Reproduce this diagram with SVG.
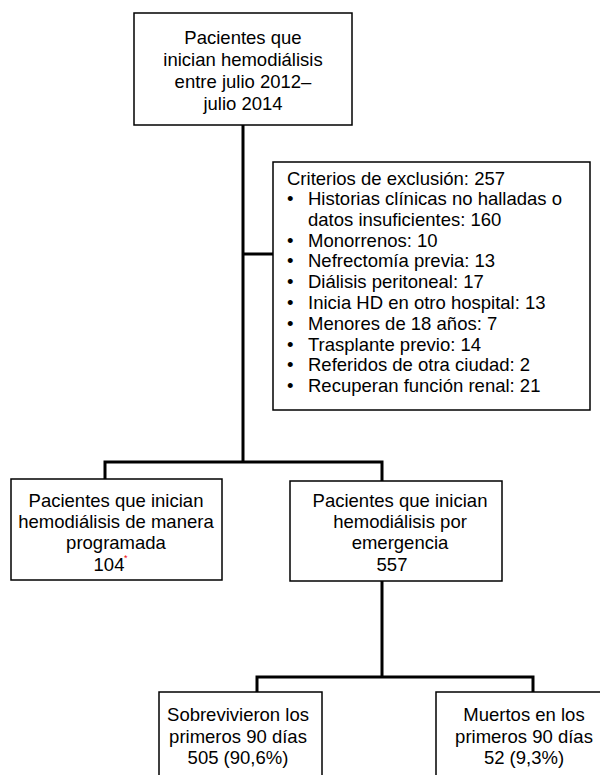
<svg xmlns="http://www.w3.org/2000/svg" width="600" height="775" viewBox="0 0 600 775">
<style>
.box{fill:#fff;stroke:#000;stroke-width:1.5}
.t{font-family:"Liberation Sans",Arial,sans-serif;font-size:18.5px;fill:#000}
.c{text-anchor:middle}
.conn{fill:none;stroke:#000;stroke-width:3}
</style>
<rect width="600" height="775" fill="#fff"/>
<g id="connectors">
<path class="conn" d="M243,125 V462 M105,462 H382 M105,460.5 V479 M382,460.5 V481 M243,254 H273 M382,581 V677 M257,677 H533 M257,675.5 V692 M533,675.5 V692"/>
</g>
<g id="n1">
<rect class="box" x="134" y="13" width="218" height="112"/>
<text class="t c" x="243"><tspan x="243" y="44">Pacientes que</tspan><tspan x="243" y="66">inician hemodiálisis</tspan><tspan x="243" y="88">entre julio 2012–</tspan><tspan x="243" y="110">julio 2014</tspan></text>
</g>
<g id="excl">
<rect class="box" x="273" y="162" width="317" height="248"/>
<text class="t" x="287" y="185">Criterios de exclusión: 257</text>
<g class="t">
<text x="287" y="205">•</text><text x="308" y="205">Historias clínicas no halladas o</text>
<text x="308" y="226">datos insuficientes: 160</text>
<text x="287" y="247">•</text><text x="308" y="247">Monorrenos: 10</text>
<text x="287" y="267">•</text><text x="308" y="267">Nefrectomía previa: 13</text>
<text x="287" y="288">•</text><text x="308" y="288">Diálisis peritoneal: 17</text>
<text x="287" y="309">•</text><text x="308" y="309">Inicia HD en otro hospital: 13</text>
<text x="287" y="330">•</text><text x="308" y="330">Menores de 18 años: 7</text>
<text x="287" y="351">•</text><text x="308" y="351">Trasplante previo: 14</text>
<text x="287" y="371">•</text><text x="308" y="371">Referidos de otra ciudad: 2</text>
<text x="287" y="392">•</text><text x="308" y="392">Recuperan función renal: 21</text>
</g>
</g>
<g id="prog">
<rect class="box" x="11" y="479" width="211" height="101"/>
<text class="t c"><tspan x="116" y="507">Pacientes que inician</tspan><tspan x="116" y="528">hemodiálisis de manera</tspan><tspan x="116" y="549">programada</tspan><tspan x="109" y="571">104</tspan></text>
<text x="124" y="561" font-family="Liberation Sans,sans-serif" font-size="9" fill="#e00">*</text>
</g>
<g id="emer">
<rect class="box" x="290" y="481" width="212" height="100"/>
<text class="t c"><tspan x="400" y="507">Pacientes que inician</tspan><tspan x="400" y="528">hemodiálisis por</tspan><tspan x="400" y="549">emergencia</tspan><tspan x="392" y="571">557</tspan></text>
</g>
<g id="surv">
<rect class="box" x="159" y="692" width="163" height="90"/>
<text class="t c"><tspan x="238" y="721">Sobrevivieron los</tspan><tspan x="238" y="743">primeros 90 días</tspan><tspan x="238" y="764">505 (90,6%)</tspan></text>
</g>
<g id="dead">
<rect class="box" x="436" y="692" width="170" height="90"/>
<text class="t c"><tspan x="524" y="721">Muertos en los</tspan><tspan x="524" y="743">primeros 90 días</tspan><tspan x="524" y="764">52 (9,3%)</tspan></text>
</g>
</svg>
